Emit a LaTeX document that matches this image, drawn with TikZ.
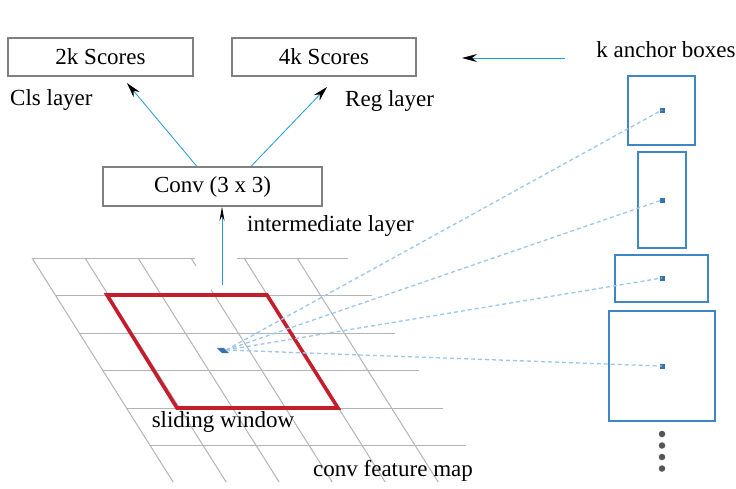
\documentclass[tikz,border=0pt]{standalone}
\usepackage{fontspec}
\setmainfont{Liberation Serif}
\usetikzlibrary{arrows.meta,calc}
\definecolor{boxgray}{HTML}{808080}
\definecolor{gridgray}{HTML}{B4B4B4}
\definecolor{winred}{HTML}{C41E2C}
\definecolor{ancblue}{HTML}{3D87C9}
\definecolor{dashblue}{HTML}{9CC6EA}
\definecolor{arrblue}{HTML}{1B9AD6}
\definecolor{dotgray}{HTML}{555555}
\begin{document}
\begin{tikzpicture}[x=1pt,y=-1pt,
  lbl/.style={font=\fontsize{23}{27}\selectfont, inner sep=0pt},
  scorebox/.style={draw=boxgray, line width=1.6pt, minimum height=38pt, inner sep=0pt, font=\fontsize{23}{27}\selectfont},
  ancbox/.style={draw=ancblue, line width=1.8pt, inner sep=0pt},
  ancdot/.style={fill=ancblue!85!black, minimum size=5pt, inner sep=0pt},
  moredot/.style={circle, fill=dotgray, minimum size=6.5pt, inner sep=0pt},
  arr/.style={draw=arrblue, line width=0.8pt, -{Stealth[length=15pt,width=8pt,black]}},
  arrsmall/.style={draw=arrblue, line width=0.9pt, -{Stealth[length=14pt,width=5pt,black]}},
  gridline/.style={draw=gridgray, line width=1pt},
  dashline/.style={draw=dashblue, line width=1.3pt, dash pattern=on 4pt off 3pt},
]
\useasboundingbox (0,0) rectangle (736,488);

% grid (conv feature map)
\foreach \i in {0,...,5} {
  \pgfmathsetmacro{\yy}{258+37.5*\i}
  \pgfmathsetmacro{\xl}{32+0.63*(\yy-258)}
  \pgfmathsetmacro{\xr}{348+0.63*(\yy-258)}
  \ifnum\i=0
    \draw[gridline] (32,258) -- (195,258);
    \draw[gridline] (237,258) -- (348,258);
  \else
    \draw[gridline] (\xl,\yy) -- (\xr,\yy);
  \fi
}
\foreach \i in {0,...,5} {
  \pgfmathsetmacro{\xt}{32+53*\i}
  \ifnum\i=3
    \draw[gridline] (\xt,258) -- ({\xt+0.63*8},266);
    \draw[gridline] ({\xt+0.63*32},290) -- ({\xt+0.63*224},482);
  \else
    \draw[gridline] (\xt,258) -- ({\xt+0.63*224},482);
  \fi
}

% sliding window
\draw[winred, line width=3.6pt, line join=miter] (107,295) -- (267,295) -- (338,408) -- (177,408) -- cycle;
\coordinate (ctr) at (226,350);
\fill[ancblue!85!black] (217,348) -- (224,348) -- (229,353) -- (222,353) -- cycle;

% anchor boxes
\node[ancbox, minimum width=67pt, minimum height=69pt] (a1) at (661.5,110.5) {};
\node[ancbox, minimum width=48pt, minimum height=96pt] (a2) at (662,200) {};
\node[ancbox, minimum width=93pt, minimum height=47pt] (a3) at (661.5,278.5) {};
\node[ancbox, minimum width=106pt, minimum height=110pt] (a4) at (662,366) {};
\node[ancdot] (d1) at (662,110) {};
\node[ancdot] (d2) at (662,200) {};
\node[ancdot] (d3) at (662,278) {};
\node[ancdot] (d4) at (662,366) {};
\foreach \y [count=\k] in {434,445.5,457,468.5} {
  \node[moredot] (m\k) at (662,\y) {};
}

% dashed connectors
\foreach \k in {1,...,4} {
  \draw[dashline] (ctr) -- (d\k.center);
}

% score boxes and conv
\node[scorebox, minimum width=185pt] (cls) at (100.5,57) {2k Scores};
\node[scorebox, minimum width=184pt] (reg) at (324,57) {4k Scores};
\node[scorebox, minimum width=219pt, minimum height=39pt] (conv) at (212.5,186.5) {Conv (3 x 3)};

% labels
\node[lbl, anchor=west] (clsl) at (10,100) {Cls layer};
\node[lbl, anchor=west] (regl) at (345,101) {Reg layer};
\node[lbl] (kab) at (666,50) {k anchor boxes};
\node[lbl, anchor=west] (inter) at (247,226) {intermediate layer};
\node[lbl] (slide) at (223,422) {sliding window};
\node[lbl, anchor=west] (cfm) at (313,471) {conv feature map};

% arrows
\coordinate (c1) at ($(conv.north west)+(94.5,0)$);
\coordinate (c2) at ($(conv.north west)+(149,0)$);
\coordinate (t1) at (127,83);
\coordinate (t2) at (327,87);
\draw[arr] (c1) -- (t1);
\draw[arr] (c2) -- (t2);
\coordinate (vb) at (222,285);
\draw[arrsmall] (vb) -- (vb |- conv.south);
\coordinate (ks) at (565,58);
\coordinate (ke) at (462,58);
\draw[arr] (ks) -- (ke);
\end{tikzpicture}
\end{document}
